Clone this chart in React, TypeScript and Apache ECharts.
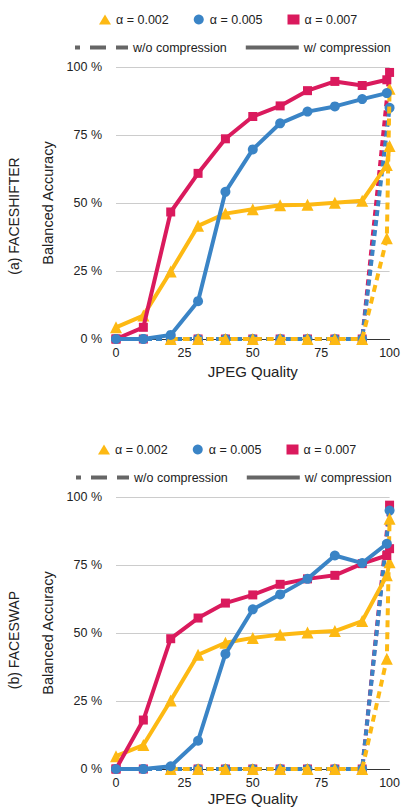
import React, { useEffect, useRef } from 'react';
import * as echarts from 'echarts';

const FONT = "'Liberation Sans', Arial, Helvetica, sans-serif";

const alphaNames = ['α = 0.002', 'α = 0.005', 'α = 0.007'];
const compressionNames = ['w/o compression', 'w/ compression'];
const panelTitles = ['(a) FACESHIFTER', '(b) FACESWAP'];
const xAxisTitle = 'JPEG Quality';
const yAxisTitle = 'Balanced Accuracy';

const qualitySolid = [0, 10, 20, 30, 40, 50, 60, 70, 80, 90, 99, 100];
const qualityDashedRB = [0, 10, 20, 30, 40, 50, 60, 70, 80, 90, 100];
const qualityDashedY = [20, 30, 40, 50, 60, 70, 80, 90, 99, 100];

// (a) FACESHIFTER
const fsSolid002 = [4.3, 8.6, 24.8, 41.6, 46.1, 47.7, 49.2, 49.4, 50.1, 50.8, 64, 71];
const fsSolid005 = [0, 0, 1.5, 13.9, 54.1, 69.7, 79.3, 83.6, 85.5, 88.2, 90.4];
const fsSolid007 = [0, 4.3, 46.7, 60.9, 73.6, 81.8, 85.7, 91.3, 94.7, 93.2, 95.3];
const fsDashed002 = [0, 0, 0, 0, 0, 0, 0, 0, 37, 92];
const fsDashed005 = [0, 0, 0, 0, 0, 0, 0, 0, 0, 0, 85];
const fsDashed007 = [0, 0, 0, 0, 0, 0, 0, 0, 0, 0, 98];

// (b) FACESWAP
const swSolid002 = [4.7, 8.8, 25.2, 42, 46.4, 48.2, 49.4, 50.2, 50.7, 54.4, 71.2, 76];
const swSolid005 = [0, 0, 1, 10.4, 42.3, 58.7, 64.2, 69.9, 78.5, 75.7, 82.8];
const swSolid007 = [0, 18, 47.9, 55.5, 61, 64, 67.9, 69.9, 71.2, 75.5, 78.5, 81];
const swDashed002 = [0, 0, 0, 0, 0, 0, 0, 0, 40.5, 92];
const swDashed005 = [0, 0, 0, 0, 0, 0, 0, 0, 0, 0, 95];
const swDashed007 = [0, 0, 0, 0, 0, 0, 0, 0, 0, 0, 97];

const colors = ['#FDB913', '#3A84C6', '#DA1A5D'];
const symbols = ['triangle', 'circle', 'rect'];
const symbolSizes = [12, 10, 9];
const grey = '#666666';

const zip = (xs: number[], ys: number[]) => ys.map((y, i) => [xs[i], y]);

function makeSeries(k: number, xs: number[], ys: number[], dashed: boolean, axis: number, z: number) {
  return {
    type: 'line',
    name: alphaNames[k],
    xAxisIndex: axis,
    yAxisIndex: axis,
    data: zip(xs, ys),
    symbol: symbols[k],
    symbolSize: symbolSizes[k],
    color: colors[k],
    itemStyle: { color: colors[k] },
    lineStyle: {
      color: colors[k],
      width: 4,
      type: dashed ? (k === 0 ? [7, 5] : [6, 4]) : 'solid',
    },
    z,
    emphasis: { disabled: true },
    silent: true,
  };
}

function panelSeries(axis: number, s: number[][], d: number[][]) {
  return [
    makeSeries(2, qualityDashedRB, d[2], true, axis, 2),
    makeSeries(1, qualityDashedRB, d[1], true, axis, 3),
    makeSeries(0, qualityDashedY, d[0], true, axis, 4),
    makeSeries(0, qualitySolid, s[0], false, axis, 5),
    makeSeries(2, qualitySolid, s[2], false, axis, 6),
    makeSeries(1, qualitySolid, s[1], false, axis, 7),
  ];
}

const textBase = { fontFamily: FONT, color: '#222222' };

function alphaLegend(top: number, left: number) {
  return {
    top,
    left,
    orient: 'horizontal',
    itemWidth: 12,
    itemHeight: 10,
    itemGap: 25,
    selectedMode: false,
    textStyle: { ...textBase, fontSize: 12.5 },
    data: alphaNames.map((n, k) => ({ name: n, icon: symbols[k] })),
  };
}

function compressionLegend(top: number, left: number) {
  return {
    top,
    left,
    orient: 'horizontal',
    itemWidth: 53,
    itemHeight: 4,
    itemGap: 19,
    selectedMode: false,
    textStyle: { ...textBase, fontSize: 12.5 },
    data: [
      { name: compressionNames[0], icon: 'path://M0,0h5v4h-5z M15,0h16v4h-16z M41,0h12v4h-12z', itemStyle: { color: grey } },
      { name: compressionNames[1], icon: 'path://M0,0h53v4h-53z', itemStyle: { color: grey } },
    ],
  };
}

function xAxis(idx: number, gap: number) {
  return {
    type: 'value',
    gridIndex: idx,
    min: 0,
    max: 100,
    interval: 25,
    name: xAxisTitle,
    nameLocation: 'middle',
    nameGap: gap,
    nameTextStyle: { ...textBase, fontSize: 15 },
    axisLine: { show: true, onZero: false, lineStyle: { color: '#333333', width: 1 } },
    axisTick: { show: false },
    axisLabel: { ...textBase, fontSize: 12.5, margin: 7 },
    splitLine: { show: false },
  };
}

function yAxis(idx: number) {
  return {
    type: 'value',
    gridIndex: idx,
    min: 0,
    max: 100,
    interval: 25,
    name: yAxisTitle,
    nameLocation: 'middle',
    nameGap: 50,
    nameTextStyle: { ...textBase, fontSize: 14.5 },
    axisLine: { show: false },
    axisTick: { show: false },
    axisLabel: { ...textBase, fontSize: 12.5, margin: 14, formatter: '{value} %' },
    splitLine: { show: true, lineStyle: { color: '#cccccc', width: 1 } },
  };
}

export default function App() {
  const ref = useRef<HTMLDivElement>(null);
  useEffect(() => {
    if (!ref.current) return;
    const chart = echarts.init(ref.current, null, { renderer: 'svg' });
    const option = {
      animation: false,
      backgroundColor: '#ffffff',
      textStyle: { fontFamily: FONT },
      grid: [
        { left: 116, right: 11, top: 67, bottom: 470 },
        { left: 116, right: 11, top: 497, bottom: 40 },
      ],
      legend: [
        alphaLegend(8, 94),
        compressionLegend(36, 70),
        alphaLegend(438, 93),
        compressionLegend(466, 71),
      ],
      xAxis: [xAxis(0, 25), xAxis(1, 22)],
      yAxis: [yAxis(0), yAxis(1)],
      graphic: [
        {
          type: 'text',
          x: 14,
          y: 216,
          rotation: Math.PI / 2,
          style: { text: panelTitles[0], font: `14px ${FONT}`, fill: '#222222', align: 'center', verticalAlign: 'middle' },
        },
        {
          type: 'text',
          x: 14,
          y: 640,
          rotation: Math.PI / 2,
          style: { text: panelTitles[1], font: `14px ${FONT}`, fill: '#222222', align: 'center', verticalAlign: 'middle' },
        },
      ],
      series: [
        ...panelSeries(0, [fsSolid002, fsSolid005, fsSolid007], [fsDashed002, fsDashed005, fsDashed007]),
        ...panelSeries(1, [swSolid002, swSolid005, swSolid007], [swDashed002, swDashed005, swDashed007]),
        { type: 'line', name: compressionNames[0], data: [], color: grey, xAxisIndex: 0, yAxisIndex: 0, lineStyle: { color: grey, type: 'dashed' } },
        { type: 'line', name: compressionNames[1], data: [], color: grey, xAxisIndex: 0, yAxisIndex: 0, lineStyle: { color: grey } },
      ],
    };
    chart.setOption(option as any);
    return () => chart.dispose();
  }, []);
  return (
    <div
      ref={ref}
      style={{ position: 'fixed', left: 0, top: 0, width: 403, height: 809, background: '#fff' }}
    />
  );
}
